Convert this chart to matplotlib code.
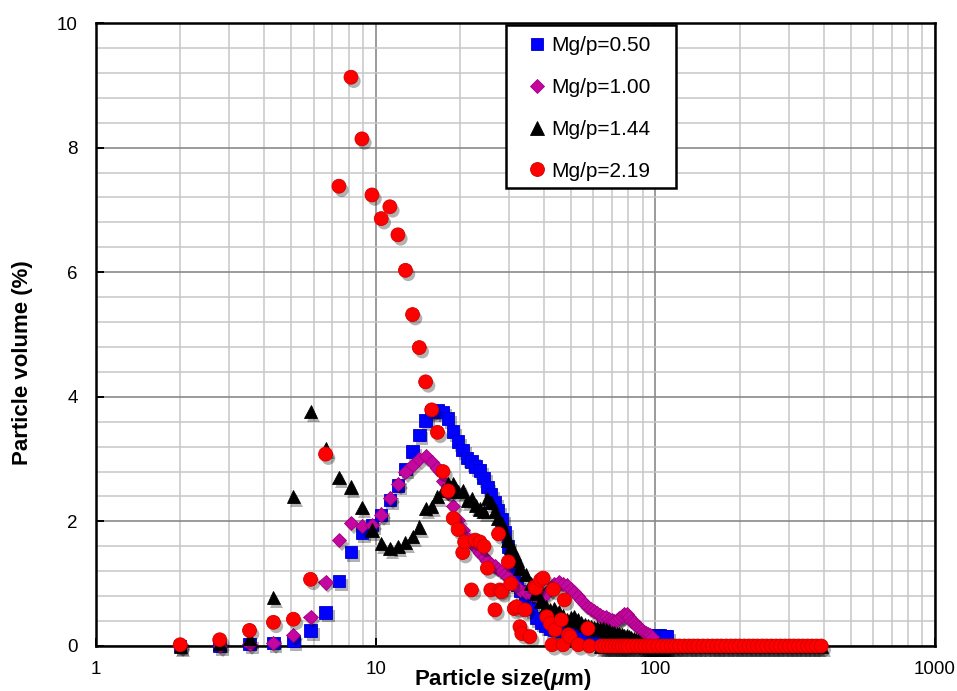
import matplotlib
matplotlib.use("Agg")
import matplotlib.pyplot as plt
import matplotlib.patheffects as pe
from matplotlib.lines import Line2D
from matplotlib.patches import Rectangle
from matplotlib.ticker import LogLocator, MultipleLocator, FixedLocator, NullFormatter, FuncFormatter

plt.rcParams["font.family"] = ["Liberation Sans", "DejaVu Sans"]
plt.rcParams["mathtext.fontset"] = "custom"
plt.rcParams["mathtext.rm"] = "Liberation Sans:bold"
plt.rcParams["mathtext.it"] = "Liberation Sans:italic:bold"

# ---- measurement bins (µm) shared by the first three samples ----
size_um = [2.00, 2.77, 3.54, 4.31, 5.08, 5.85, 6.62, 7.39, 8.16, 8.93,
           9.70, 10.47, 11.24, 12.01, 12.78, 13.55, 14.32, 15.09, 15.86, 16.63,
           17.40, 18.17, 18.94, 19.71, 20.48, 21.25, 22.02, 22.79, 23.56, 24.33,
           25.10, 25.87, 26.64, 27.41, 28.18, 28.95, 29.72, 30.49, 31.26, 32.03,
           32.80,
           34.34, 35.88, 37.42, 38.96, 40.50, 42.04, 43.58, 45.12, 46.66, 48.20,
           49.74, 51.28, 52.82, 54.36, 55.90, 57.44, 58.98, 60.52, 62.06, 63.60,
           65.14, 66.68, 68.22, 69.76, 71.30, 72.84, 74.38, 75.92, 77.46, 79.00,
           80.54, 82.08, 83.62, 85.16, 86.70, 88.24, 89.78, 91.32, 92.86, 94.40,
           95.94, 97.48, 99.02, 100.56, 102.10, 103.64, 105.18, 106.72, 108.26, 109.80]

vol_050 = [0.00, 0.00, 0.03, 0.05, 0.08, 0.25, 0.54, 1.04, 1.51, 1.81,
           1.94, 2.10, 2.34, 2.58, 2.84, 3.12, 3.39, 3.62, 3.76, 3.79,
           3.76, 3.65, 3.44, 3.28, 3.15, 3.02, 2.96, 2.88, 2.82, 2.70,
           2.55, 2.44, 2.30, 2.18, 2.03, 1.82, 1.60, 1.40, 1.15, 0.98,
           0.88,
           0.75, 0.60, 0.45, 0.38, 0.32, 0.28, 0.26, 0.26, 0.24, 0.22,
           0.20, 0.18, 0.16, 0.14, 0.12, 0.10, 0.09, 0.08, 0.08, 0.08,
           0.08, 0.08, 0.08, 0.08, 0.08, 0.08, 0.08, 0.08, 0.08, 0.08,
           0.08, 0.08, 0.08, 0.08, 0.08, 0.08, 0.08, 0.09, 0.10, 0.12,
           0.14, 0.15, 0.16, 0.17, 0.17, 0.17, 0.16, 0.16, 0.15, 0.15]

vol_100 = [0.00, 0.00, 0.03, 0.05, 0.17, 0.46, 1.02, 1.70, 1.98, 1.92,
           1.94, 2.11, 2.38, 2.60, 2.79, 2.91, 3.00, 3.05, 2.96, 2.85,
           2.65, 2.45, 2.25, 2.02, 1.86, 1.74, 1.66, 1.57, 1.50, 1.43,
           1.37, 1.32, 1.28, 1.24, 1.20, 1.16, 1.10, 1.05, 1.00, 0.95,
           0.90,
           0.86, 0.83, 0.80, 0.80, 0.84, 0.92, 0.99, 1.03, 1.00, 0.97,
           0.92, 0.86, 0.80, 0.74, 0.68, 0.63, 0.59, 0.56, 0.53, 0.49,
           0.46, 0.46, 0.43, 0.41, 0.40, 0.42, 0.45, 0.48, 0.51, 0.52,
           0.46, 0.40, 0.38, 0.34, 0.31, 0.28, 0.26, 0.23, 0.21, 0.19,
           0.17, 0.14, 0.00, 0.00, 0.00, 0.00, 0.00, 0.00, 0.00, 0.00]

vol_144 = [0.00, 0.05, 0.12, 0.78, 2.40, 3.76, 3.17, 2.71, 2.55, 2.22,
           1.86, 1.64, 1.56, 1.60, 1.66, 1.76, 1.91, 2.21, 2.24, 2.40,
           2.50, 2.61, 2.61, 2.48, 2.50, 2.34, 2.37, 2.26, 2.20, 2.16,
           2.37, 2.30, 2.16, 2.05, 1.97, 1.82, 1.70, 1.59, 1.48, 1.38,
           1.25,
           1.15, 1.00, 0.85, 0.72, 0.63, 0.58, 0.60, 0.55, 0.48, 0.43,
           0.45, 0.47, 0.42, 0.38, 0.35, 0.33, 0.31, 0.30, 0.29, 0.28,
           0.28, 0.26, 0.24, 0.22, 0.21, 0.20, 0.19, 0.18, 0.17, 0.16,
           0.15, 0.14, 0.12, 0.10, 0.08, 0.05, 0.02, 0.00, 0.00, 0.00,
           0.00, 0.00, 0.00, 0.00, 0.00, 0.00, 0.00, 0.00, 0.00, 0.00]

# ---- Mg/p = 2.19 sample ----
size_219 = [2.00, 2.77, 3.54, 4.31, 5.08, 5.85, 6.62, 7.39, 8.16, 8.93,
            9.70, 10.47, 11.24, 12.01, 12.78, 13.55, 14.32, 15.09, 15.86, 16.63,
            17.40, 18.17, 18.94, 19.71, 20.48, 20.8, 22.0, 22.7, 23.6, 24.4,
            25.1, 25.8, 26.7, 27.5, 27.8, 28.2, 29.8, 30.4, 31.3, 31.9,
            32.8, 33.3, 34.2, 35.6, 37.1, 37.4, 38.9, 39.7, 40.9, 42.1,
            42.7, 43.2, 43.8, 46.1, 46.8, 47.3, 48.9, 49.6, 53.0, 57.4,
            58.1]
vol_219 = [0.02, 0.10, 0.25, 0.38, 0.43, 1.07, 3.08, 7.38, 9.13, 8.14,
           7.24, 6.86, 7.05, 6.60, 6.03, 5.32, 4.79, 4.24, 3.79, 3.43,
           2.80, 2.49, 2.05, 1.87, 1.50, 1.67, 0.90, 1.70, 1.67, 1.60,
           1.25, 0.90, 0.58, 1.80, 0.90, 0.87, 1.35, 1.00, 0.60, 0.63,
           0.31, 0.20, 0.58, 0.15, 0.95, 0.93, 1.06, 1.09, 0.47, 0.36,
           0.02, 0.91, 0.26, 0.42, 0.02, 0.74, 0.18, 0.15, 0.02, 0.28,
           0.00]

# coarse bins where both Mg/p = 1.44 and 2.19 read zero
tail_um = [64, 66, 68, 70, 72, 74, 76, 78, 80, 83, 86, 89, 92, 95, 98,
           102, 106, 110, 114, 118, 122, 127, 132, 137, 142, 148, 154, 160,
           166, 172, 179, 186, 193, 200, 208, 216, 224, 232, 241, 250, 260,
           270, 280, 291, 302, 313, 325, 337, 350, 363, 377, 392]
tail_vol = [0, 0, 0, 0, 0, 0, 0, 0, 0, 0, 0, 0, 0, 0, 0,
            0, 0, 0, 0, 0, 0, 0, 0, 0, 0, 0, 0, 0,
            0, 0, 0, 0, 0, 0, 0, 0, 0, 0, 0, 0, 0,
            0, 0, 0, 0, 0, 0, 0, 0, 0, 0, 0]

labels = ["Mg/p=0.50", "Mg/p=1.00", "Mg/p=1.44", "Mg/p=2.19"]

W, H = 957, 691
fig = plt.figure(figsize=(W / 100, H / 100), dpi=100)
ax = fig.add_axes([96 / W, 1 - 646 / H, (935 - 96) / W, (646 - 23) / H])

ax.set_xscale("log")
ax.set_xlim(1, 1000)
ax.set_ylim(0, 10)

ax.xaxis.set_major_locator(LogLocator(base=10, numticks=10))
ax.xaxis.set_minor_locator(LogLocator(base=10, subs=range(2, 10), numticks=40))
ax.xaxis.set_minor_formatter(NullFormatter())
ax.xaxis.set_major_formatter(FuncFormatter(lambda v, p: f"{v:g}"))
ax.yaxis.set_major_locator(MultipleLocator(2))
ax.yaxis.set_minor_locator(FixedLocator([k * 0.4 for k in range(26) if k % 5]))

ax.grid(which="major", color="#8a8a8a", lw=1.2)
ax.grid(which="minor", color="#c6c6c6", lw=1.1)
ax.set_axisbelow(True)
ax.tick_params(which="major", direction="in", length=6, width=1.4,
               labelsize=13.5, colors="black")
ax.tick_params(which="minor", length=0)
ax.tick_params(axis="x", pad=10.5)
ax.tick_params(axis="y", pad=13)
for sp in ax.spines.values():
    sp.set_linewidth(1.8)
    sp.set_color("black")

shadow = [pe.SimplePatchShadow(offset=(2.0, -2.8), shadow_rgbFace="black", alpha=0.3),
          pe.Normal()]

styles = [
    dict(marker="s", ms=9.0, mfc="#0000ff", mec="#0000c8", mew=0.6),
    dict(marker="D", ms=7.2, mfc="#c4089f", mec="#a0007f", mew=0.6),
    dict(marker="^", ms=9.6, mfc="black", mec="black", mew=0.6),
    dict(marker="o", ms=10.0, mfc="#ff0000", mec="#d00000", mew=0.6),
]

series = [(size_um, vol_050), (size_um, vol_100), (size_um, vol_144), (size_219, vol_219)]
for z, ((xs, ys), st) in enumerate(zip(series, styles)):
    if z == 2:
        ax.plot(tail_um, tail_vol, ls="none", clip_on=False, zorder=3 + z * 0.1,
                path_effects=shadow, **st)
    ax.plot(xs, ys, ls="none", clip_on=False, zorder=3 + z * 0.1,
            path_effects=shadow, **st)
    if z == 3:
        ax.plot(tail_um, tail_vol, ls="none", clip_on=False, zorder=3 + z * 0.1,
                path_effects=shadow, **st)

# legend box
ax.add_patch(Rectangle(((506 - 96) / 839, (646 - 188) / 623), 170 / 839, 163 / 623,
                       transform=ax.transAxes, fc="white", ec="black", lw=1.8,
                       zorder=4.5))
handles = [Line2D([], [], ls="none", **st) for st in styles]
ax.legend(handles, labels, loc="upper left",
          bbox_to_anchor=((529 - 96) / 839, (646 - 36) / 623),
          frameon=False, borderpad=0, borderaxespad=0, handlelength=0.8,
          handletextpad=0.25, labelspacing=1.1, fontsize=15, numpoints=1)

fig.text(503 / W, 5.5 / H, r"Particle size($\mu$m)", ha="center", va="baseline",
         fontsize=16, fontweight="bold")
fig.text(23 / W, 1 - 363 / H, "Particle volume (%)", rotation=90, ha="center",
         va="center", fontsize=16, fontweight="bold")

fig.savefig("out.png", dpi=100)
